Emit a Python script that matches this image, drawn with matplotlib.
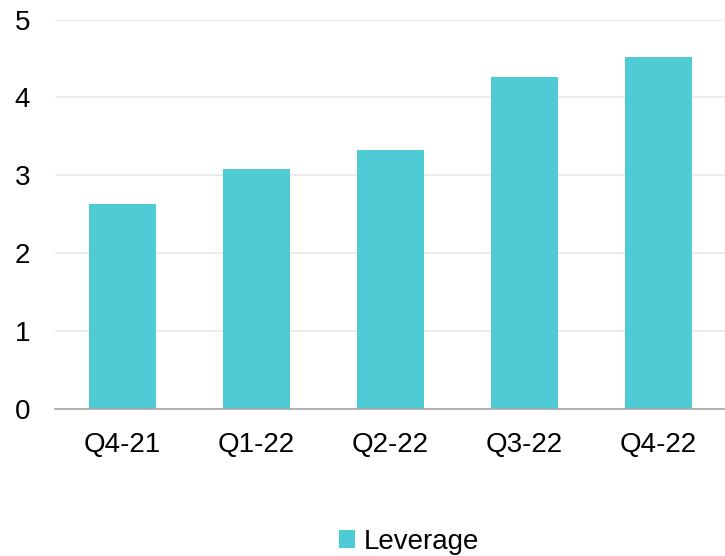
import matplotlib.pyplot as plt

# data
quarters = ['Q4-21', 'Q1-22', 'Q2-22', 'Q3-22', 'Q4-22']
leverage = [2.63, 3.08, 3.33, 4.26, 4.52]

plt.rcParams['font.family'] = ['Liberation Sans', 'DejaVu Sans']

fig = plt.figure(figsize=(7.25, 5.56), dpi=100)
ax = fig.add_axes([0.0759, 0.265, 0.9241, 0.6996])

ax.bar(range(len(quarters)), leverage, width=0.5, color='#4ECBD4', label='Leverage', zorder=3)

ax.set_xlim(-0.5, len(quarters) - 0.5)
ax.set_ylim(0, 5)
ax.set_yticks(range(0, 6))
ax.set_xticks(range(len(quarters)))
ax.set_xticklabels(quarters)

ax.grid(axis='y', color='#e9e9e9', linewidth=1.2, zorder=0)
for s in ['top', 'right', 'left']:
    ax.spines[s].set_visible(False)
ax.spines['bottom'].set_color('#a6a6a6')
ax.spines['bottom'].set_linewidth(1.2)
ax.spines['bottom'].set_zorder(4)

ax.tick_params(axis='y', length=0, pad=18, labelsize=20)
ax.tick_params(axis='x', length=0, pad=17, labelsize=20)

fig.legend(loc='center', bbox_to_anchor=(409 / 725, 1 - 542 / 556), frameon=False,
           fontsize=20, handlelength=0.6, handleheight=0.6, handletextpad=0.3)

fig.savefig('out.png', dpi=100)
